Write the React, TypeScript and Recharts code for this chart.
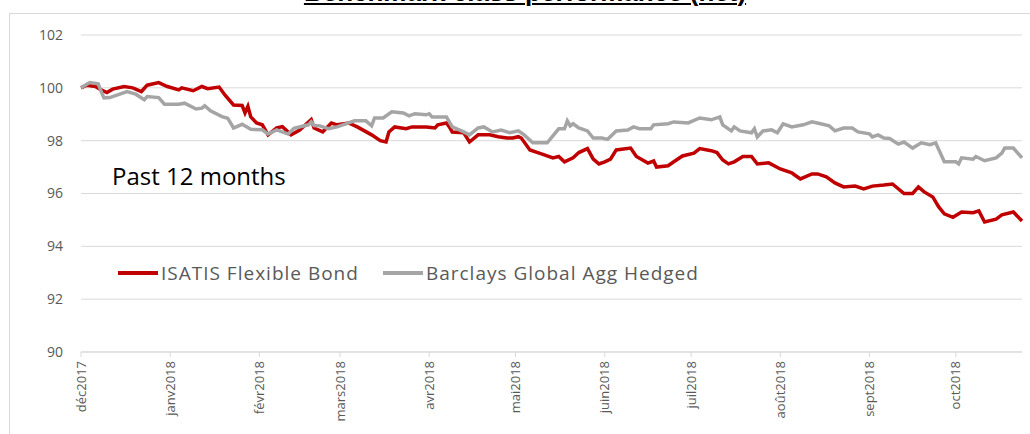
import { LineChart, Line, XAxis, YAxis, CartesianGrid } from 'recharts';

// x = days since 1 Dec 2017
const monthTicks = [0, 31, 62, 90, 121, 151, 182, 212, 243, 274, 304];
const monthLabels = ['déc2017', 'janv2018', 'févr2018', 'mars2018', 'avr2018', 'mai2018', 'juin2018', 'juil2018', 'août2018', 'sept2018', 'oct2018'];
const yTicks = [90, 92, 94, 96, 98, 100, 102];

const isatisDays = [0, 2, 5, 7, 9, 11, 15, 18, 21, 23, 27, 30, 34, 35, 39, 42, 44, 48, 50, 53, 56, 57, 58, 59, 61, 63, 65, 68, 70, 73, 76, 80, 81, 84, 87, 89, 93, 96, 101, 104, 106, 107, 109, 113, 115, 120, 123, 124, 127, 128, 129, 133, 135, 138, 142, 145, 148, 150, 152, 153, 156, 160, 164, 166, 168, 171, 173, 176, 178, 180, 182, 184, 186, 191, 193, 197, 199, 200, 204, 206, 209, 213, 215, 219, 221, 223, 225, 227, 230, 233, 235, 239, 243, 247, 248, 250, 254, 256, 259, 262, 265, 269, 272, 275, 279, 282, 286, 289, 291, 293, 296, 298, 300, 303, 306, 310, 312, 314, 318, 320, 324, 326, 327];
const isatisValues = [100.0, 100.1, 100.05, 99.92, 99.82, 99.95, 100.05, 100.0, 99.86, 100.1, 100.2, 100.05, 99.92, 100.0, 99.89, 100.05, 99.97, 100.03, 99.73, 99.35, 99.33, 99.05, 99.3, 98.9, 98.67, 98.6, 98.22, 98.48, 98.53, 98.22, 98.4, 98.8, 98.48, 98.33, 98.67, 98.6, 98.67, 98.52, 98.22, 98.0, 97.95, 98.33, 98.52, 98.45, 98.52, 98.52, 98.48, 98.6, 98.67, 98.52, 98.33, 98.3, 97.95, 98.22, 98.22, 98.15, 98.1, 98.1, 98.15, 98.1, 97.65, 97.5, 97.35, 97.4, 97.2, 97.35, 97.55, 97.7, 97.3, 97.12, 97.2, 97.3, 97.65, 97.72, 97.4, 97.15, 97.23, 97.0, 97.05, 97.2, 97.42, 97.53, 97.7, 97.62, 97.55, 97.27, 97.12, 97.2, 97.4, 97.4, 97.12, 97.16, 96.93, 96.78, 96.7, 96.55, 96.74, 96.74, 96.63, 96.4, 96.25, 96.28, 96.17, 96.28, 96.32, 96.36, 96.0, 96.0, 96.25, 96.06, 95.87, 95.5, 95.23, 95.1, 95.3, 95.27, 95.34, 94.92, 95.03, 95.19, 95.3, 95.07, 94.96];

const barclaysDays = [0, 3, 6, 7, 8, 10, 16, 19, 22, 23, 27, 29, 34, 36, 40, 42, 43, 45, 49, 51, 53, 56, 59, 63, 65, 68, 72, 74, 79, 80, 81, 83, 86, 89, 93, 95, 99, 101, 102, 105, 108, 112, 114, 116, 120, 121, 122, 127, 129, 133, 135, 138, 140, 143, 146, 149, 152, 154, 157, 159, 162, 166, 168, 169, 170, 171, 173, 176, 178, 181, 183, 186, 190, 192, 194, 198, 199, 204, 206, 211, 215, 219, 222, 223, 226, 227, 229, 233, 234, 235, 237, 240, 242, 244, 247, 251, 254, 257, 260, 262, 265, 268, 270, 274, 275, 277, 279, 281, 284, 286, 289, 292, 295, 297, 300, 304, 305, 306, 310, 311, 314, 318, 320, 321, 324, 327];
const barclaysValues = [100.0, 100.2, 100.15, 99.86, 99.62, 99.63, 99.86, 99.76, 99.55, 99.67, 99.63, 99.38, 99.38, 99.42, 99.2, 99.23, 99.32, 99.13, 98.91, 98.85, 98.48, 98.62, 98.43, 98.41, 98.25, 98.41, 98.25, 98.47, 98.6, 98.72, 98.57, 98.56, 98.45, 98.52, 98.67, 98.75, 98.75, 98.56, 98.86, 98.86, 99.09, 99.05, 98.94, 99.02, 98.98, 99.02, 98.9, 98.9, 98.52, 98.33, 98.22, 98.48, 98.52, 98.33, 98.4, 98.3, 98.37, 98.22, 97.92, 97.92, 97.92, 98.45, 98.45, 98.75, 98.56, 98.64, 98.48, 98.37, 98.1, 98.1, 98.05, 98.37, 98.4, 98.52, 98.45, 98.45, 98.6, 98.64, 98.71, 98.67, 98.86, 98.79, 98.9, 98.6, 98.37, 98.52, 98.37, 98.3, 98.45, 98.14, 98.37, 98.41, 98.3, 98.64, 98.52, 98.6, 98.71, 98.64, 98.56, 98.37, 98.48, 98.48, 98.33, 98.26, 98.14, 98.22, 98.1, 98.08, 97.87, 97.95, 97.72, 97.92, 97.85, 97.92, 97.2, 97.2, 97.12, 97.35, 97.3, 97.4, 97.24, 97.35, 97.53, 97.72, 97.72, 97.35];

const RED = '#C00000';
const GRAY = '#A5A5A5';
const AXIS_TEXT = '#595959';
const FONT = '"Open Sans", sans-serif';

function buildRows() {
  const rows = new Map<number, { d: number; isatis?: number; barclays?: number }>();
  isatisDays.forEach((d, i) => {
    rows.set(d, { ...(rows.get(d) || { d }), isatis: isatisValues[i] });
  });
  barclaysDays.forEach((d, i) => {
    rows.set(d, { ...(rows.get(d) || { d }), barclays: barclaysValues[i] });
  });
  return Array.from(rows.values()).sort((a, b) => a.d - b.d);
}

const data = buildRows();

function MonthTick({ x, y, payload }: any) {
  const idx = monthTicks.indexOf(payload.value);
  return (
    <g transform={`translate(${x},${y})`}>
      <text
        x={0}
        y={0}
        dy="0.35em"
        transform="rotate(-90)"
        textAnchor="end"
        fill={AXIS_TEXT}
        fontSize={13}
        fontFamily={FONT}
      >
        {monthLabels[idx]}
      </text>
    </g>
  );
}

export default function App() {
  return (
    <div style={{ position: 'absolute', left: 0, top: 0, width: 1030, height: 434, background: '#fff', overflow: 'hidden', fontFamily: FONT }}>
      {/* title, mostly cut off at the top */}
      <div style={{ position: 'absolute', left: 0, top: 0, width: 1030, height: 6, overflow: 'hidden' }}>
        <div
          style={{
            position: 'absolute',
            left: 0,
            width: 1050,
            top: -21,
            textAlign: 'center',
            fontSize: 26,
            lineHeight: '26px',
            fontWeight: 700,
            fontFamily: '"Liberation Sans", sans-serif',
            color: '#000',
            textDecoration: 'underline',
            textDecorationThickness: '2px',
            textUnderlineOffset: '2px',
          }}
        >
          Benchmark class performance (net)
        </div>
      </div>
      {/* chart frame */}
      <div style={{ position: 'absolute', left: 9, top: 13, width: 1030, height: 430, borderTop: '1px solid #d9d9d9', borderLeft: '1px solid #d9d9d9' }} />

      <div style={{ position: 'absolute', left: 0, top: 0 }}>
        <LineChart width={1030} height={434} data={data} margin={{ top: 35, right: 8, bottom: 0, left: 41 }}>
          <CartesianGrid vertical={false} stroke="#d9d9d9" strokeWidth={1} />
          <XAxis
            dataKey="d"
            type="number"
            domain={[0, 327]}
            ticks={monthTicks}
            interval={0}
            height={82}
            stroke="#d9d9d9"
            tickLine={{ stroke: '#d9d9d9' }}
            tickSize={5}
            tickMargin={4}
            tick={<MonthTick />}
          />
          <YAxis
            domain={[90, 102]}
            ticks={yTicks}
            width={40}
            axisLine={false}
            tickLine={false}
            tickSize={0}
            tickMargin={18}
            tick={{ fill: AXIS_TEXT, fontSize: 14, fontFamily: FONT }}
          />
          <Line
            type="linear"
            dataKey="isatis"
            stroke={RED}
            strokeWidth={3.5}
            dot={false}
            connectNulls
            isAnimationActive={false}
          />
          <Line
            type="linear"
            dataKey="barclays"
            stroke={GRAY}
            strokeWidth={3.5}
            dot={false}
            connectNulls
            isAnimationActive={false}
          />
        </LineChart>
      </div>

      <div style={{ position: 'absolute', left: 112, top: 160, fontSize: 24, color: '#000', fontFamily: FONT, lineHeight: '32px' }}>
        Past 12 months
      </div>

      <div style={{ position: 'absolute', left: 118, top: 261, height: 24, display: 'flex', alignItems: 'center', fontSize: 19, color: AXIS_TEXT, letterSpacing: 1 }}>
        <span style={{ display: 'inline-block', width: 40, height: 4, background: RED, marginRight: 3 }} />
        <span>ISATIS Flexible Bond</span>
        <span style={{ display: 'inline-block', width: 40, height: 4, background: GRAY, marginLeft: 24, marginRight: 3 }} />
        <span>Barclays Global Agg Hedged</span>
      </div>
    </div>
  );
}
